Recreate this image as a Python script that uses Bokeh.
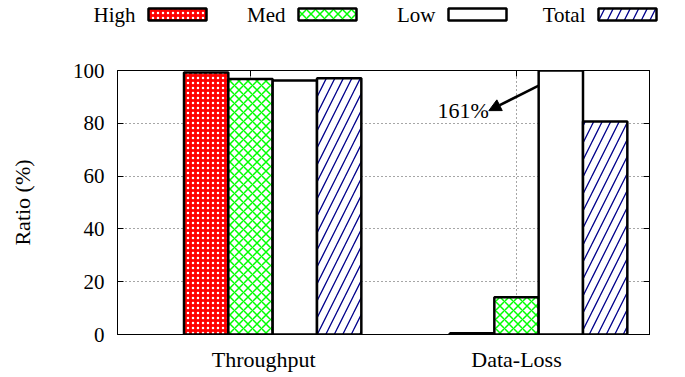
from bokeh.plotting import figure
from bokeh.models import (Range1d, FixedTicker, LinearAxis, Arrow, NormalHead,
                          Label, ColumnDataSource, Column)
from bokeh.core.properties import value
from bokeh.embed import file_html
from bokeh.resources import INLINE

# ---- data -------------------------------------------------------------
categories = ["Throughput", "Data-Loss"]
series_names = ["High", "Med", "Low", "Total"]
high = [99.2, 0.5]
med = [96.8, 14.1]
low = [96.2, 161.0]
total = [97.1, 80.7]
y_ticks = [0, 20, 40, 60, 80, 100]

FONT = "Liberation Serif"
FS = "22px"       # category names, axis title, callout
FS_TICK = "21px"  # y tick numbers
FS_KEY = "21px"   # key entries

# bar styles: fill, hatch pattern, hatch colour
styles = {
    "High": dict(fill_color="#ff0000", hatch_pattern="dot", hatch_color="white",
                 hatch_scale=5, hatch_weight=1.0),
    "Med": dict(fill_color="white", hatch_pattern="diagonal_cross", hatch_color="#00ff00",
                hatch_scale=9, hatch_weight=1.5),
    "Low": dict(fill_color="white"),
    "Total": dict(fill_color="white", hatch_pattern="right_diagonal_line",
                  hatch_color="#00008b", hatch_scale=17, hatch_weight=1.3),
}
values = {"High": high, "Med": med, "Low": low, "Total": total}

KEY_H = 40
BL, BR, BT, BB = 117, 36, 70 - KEY_H, 43

# ---- chart ------------------------------------------------------------
p = figure(width=685, height=377 - KEY_H, x_range=Range1d(-0.5, 1.5),
           y_range=Range1d(0, 100), output_backend="svg", toolbar_location=None,
           min_border_left=BL, min_border_right=BR, min_border_top=BT,
           min_border_bottom=BB)
p.background_fill_color = "white"
p.border_fill_color = "white"
p.outline_line_color = "black"
p.outline_line_width = 1

bw = 1.0 / 6.0
offsets = [-bw, 0.0, bw, 2 * bw]
for name, off in zip(series_names, offsets):
    src = ColumnDataSource(dict(x=[i + off for i in range(len(categories))],
                                top=values[name]))
    p.vbar(x="x", top="top", bottom=0, width=bw, source=src,
           line_color="black", line_width=2.5, **styles[name])

# bottom axis: category names (the first one sits a little right of its tick)
label_pos = [0.05, 1.0]
p.xaxis.ticker = FixedTicker(ticks=label_pos)
p.xaxis.major_label_overrides = {x: c for x, c in zip(label_pos, categories)}
p.yaxis.ticker = FixedTicker(ticks=y_ticks)
p.yaxis.axis_label = "Ratio (%)"
for ax in (p.xaxis[0], p.yaxis[0]):
    ax.axis_line_color = "black"
    ax.major_tick_line_color = "black"
    ax.major_tick_in = 6
    ax.major_tick_out = 0
    ax.minor_tick_line_color = None
    ax.major_label_text_font = FONT
    ax.major_label_text_font_size = FS
    ax.major_label_text_color = "black"
    ax.axis_label_text_font = FONT
    ax.axis_label_text_font_size = FS
    ax.axis_label_text_font_style = "normal"
    ax.axis_label_text_color = "black"
p.yaxis.major_label_text_font_size = FS_TICK
p.xaxis.major_tick_line_color = None
p.yaxis.major_label_standoff = 13
p.yaxis.axis_label_standoff = 35
p.xaxis.major_label_standoff = 12

# mirrored tick marks on the right and top borders
cat_ticks = list(range(len(categories)))
r_ax = LinearAxis(ticker=FixedTicker(ticks=y_ticks), major_tick_in=6, major_tick_out=0,
                  minor_tick_line_color=None,
                  major_label_overrides={t: "" for t in y_ticks},
                  axis_line_color="black")
t_ax = LinearAxis(ticker=FixedTicker(ticks=cat_ticks),
                  major_tick_in=6, major_tick_out=0, minor_tick_line_color=None,
                  major_label_overrides={i: "" for i in cat_ticks},
                  axis_line_color="black")
p.add_layout(r_ax, "right")
p.add_layout(t_ax, "above")

# dotted grid
p.ygrid.ticker = FixedTicker(ticks=y_ticks[1:-1])
p.xgrid.ticker = FixedTicker(ticks=cat_ticks)
for g in (p.xgrid[0], p.ygrid[0]):
    g.grid_line_color = "black"
    g.grid_line_dash = "1 3"
    g.grid_line_width = 1
    g.grid_line_alpha = 0.7

# callout for the clipped Low bar in the Data-Loss group
low_left = 1 + offsets[2] - bw / 2
p.add_layout(Arrow(end=NormalHead(size=12, fill_color="black", line_color="black"),
                   x_start=low_left, y_start=94.3, x_end=0.896, y_end=84.8,
                   line_color="black", line_width=2.5))
p.add_layout(Label(x=0.896, y=84.8, text=f"{low[1]:.0f}%", text_align="right",
                   text_baseline="middle", text_font=FONT, text_font_size=FS,
                   text_color="black"))

# ---- key strip: name followed by its sample box, in pixel coordinates ----
lf = figure(width=685, height=KEY_H, x_range=Range1d(0, 685), y_range=Range1d(KEY_H, 0),
            output_backend="svg", toolbar_location=None, min_border=0)
lf.axis.visible = False
lf.grid.visible = False
lf.outline_line_color = None
lf.background_fill_color = "white"
lf.border_fill_color = "white"
box_w, box_h = 58, 12
box_left0, step, key_y, gap = 148, 150, 14, 13
for k, name in enumerate(series_names):
    left = box_left0 + k * step
    lf.rect(x=[left + box_w / 2], y=[key_y], width=box_w, height=box_h,
            line_color="black", line_width=2.5, **styles[name])
    lf.text(x=[left - gap], y=[key_y], text=[name], text_font=value(FONT),
            text_font_size=value(FS_KEY), text_align="right", text_baseline="middle",
            text_color="black")

layout = Column(children=[Column(children=[lf]), Column(children=[p])], spacing=0)
open("out.html", "w").write(file_html(layout, INLINE))
